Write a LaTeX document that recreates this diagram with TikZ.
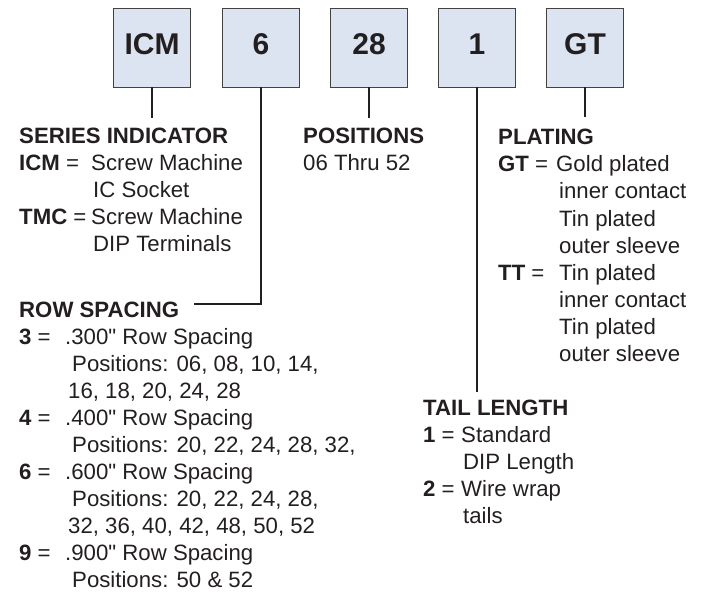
\documentclass[tikz,border=0pt]{standalone}
\usepackage{fontspec}
\setmainfont{Liberation Sans}
\definecolor{boxfill}{HTML}{DDE4F1}
\definecolor{ink}{HTML}{231F20}
\newcommand{\sq}{\XeTeXglyph\XeTeXcharglyph34\relax}
\begin{document}
\begin{tikzpicture}[x=1pt,y=-1pt,
  codebox/.style={draw=ink!85, line width=0.9pt, fill=boxfill, minimum width=77pt, minimum height=79pt, inner sep=0pt, text depth=6pt, font=\fontsize{30}{30}\selectfont\bfseries, text=ink},
  txt/.style={anchor=base west, inner sep=0pt, font=\fontsize{22.2}{27}\selectfont, text=ink},
  hd/.style={anchor=base west, inner sep=0pt, font=\fontsize{22.2}{27}\selectfont\bfseries, text=ink},
  conn/.style={draw=ink, line width=1.6pt}]
\useasboundingbox (0,0) rectangle (706,592);
% code boxes
\node[codebox] (bICM) at (152,47.5) {ICM};
\node[codebox] (b6) at (261,47.5) {6};
\node[codebox] (b28) at (369,47.5) {28};
\node[codebox] (b1) at (477,47.5) {1};
\node[codebox] (bGT) at (585,47.5) {GT};
% connector ends
\coordinate (eICM) at (152,118);
\coordinate (e6) at (194,304);
\coordinate (e28) at (369,118);
\coordinate (e1) at (477,392);
\coordinate (eGT) at (585,117);
\draw[conn] (bICM.south) -- (eICM);
\draw[conn] (b6.south) |- (e6);
\draw[conn] (b28.south) -- (e28);
\draw[conn] (b1.south) -- (e1);
\draw[conn] (bGT.south) -- (eGT);
% series indicator
\node[hd] (sH) at (19,143) {SERIES INDICATOR};
\node[txt] (s1a) at (19,170) {\textbf{ICM} =};
\node[txt] (s1b) at (91,170) {Screw Machine};
\node[txt] (s2) at (93,197) {IC Socket};
\node[txt] (s3a) at (19,224) {\textbf{TMC} =};
\node[txt] (s3b) at (91,224) {Screw Machine};
\node[txt] (s4) at (93,251) {DIP Terminals};
% positions
\node[hd] (pH) at (303,143) {POSITIONS};
\node[txt] (p1) at (303,170) {06 Thru 52};
% plating
\node[hd] (gH) at (498,144) {PLATING};
\node[txt] (g1a) at (498,171) {\textbf{GT} =};
\node[txt] (g1b) at (556,171) {Gold plated};
\node[txt] (g2) at (559,198) {inner contact};
\node[txt] (g3) at (559,226) {Tin plated};
\node[txt] (g4) at (559,253) {outer sleeve};
\node[txt] (g5a) at (498,280) {\textbf{TT} =};
\node[txt] (g5b) at (559,280) {Tin plated};
\node[txt] (g6) at (559,307) {inner contact};
\node[txt] (g7) at (559,334) {Tin plated};
\node[txt] (g8) at (559,361) {outer sleeve};
% row spacing
\node[hd] (rH) at (19,317) {ROW SPACING};
\node[txt] (r1a) at (19,344) {\textbf{3} =};
\node[txt] (r1b) at (65,344) {.300\sq{} Row Spacing};
\node[txt] (r2) at (72,371) {Positions: 06, 08, 10, 14,};
\node[txt] (r3) at (68,398) {16, 18, 20, 24, 28};
\node[txt] (r4a) at (19,425) {\textbf{4} =};
\node[txt] (r4b) at (65,425) {.400\sq{} Row Spacing};
\node[txt] (r5) at (72,452) {Positions: 20, 22, 24, 28, 32,};
\node[txt] (r6a) at (19,479) {\textbf{6} =};
\node[txt] (r6b) at (65,479) {.600\sq{} Row Spacing};
\node[txt] (r7) at (72,506) {Positions: 20, 22, 24, 28,};
\node[txt] (r8) at (68,533) {32, 36, 40, 42, 48, 50, 52};
\node[txt] (r9a) at (19,560) {\textbf{9} =};
\node[txt] (r9b) at (65,560) {.900\sq{} Row Spacing};
\node[txt] (r10) at (72,587) {Positions: 50 \& 52};
% tail length
\node[hd] (tH) at (423,415) {TAIL LENGTH};
\node[txt] (t1a) at (423,442) {\textbf{1} =};
\node[txt] (t1b) at (461,442) {Standard};
\node[txt] (t2) at (463,469) {DIP Length};
\node[txt] (t3a) at (423,496) {\textbf{2} =};
\node[txt] (t3b) at (461,496) {Wire wrap};
\node[txt] (t4) at (463,523) {tails};
\end{tikzpicture}
\end{document}
